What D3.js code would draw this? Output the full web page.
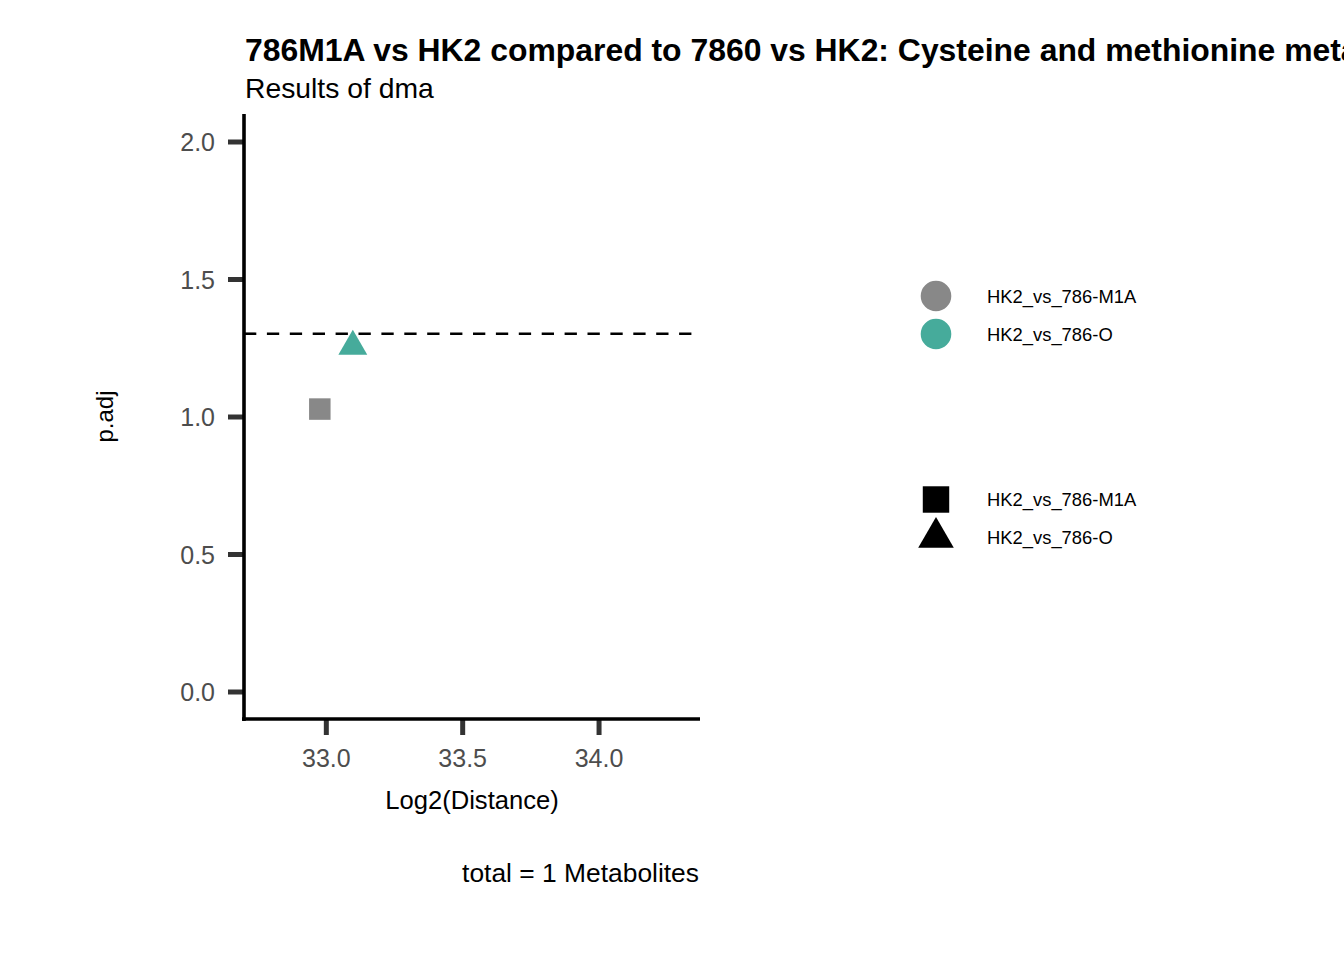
<!DOCTYPE html>
<html>
<head>
<meta charset="utf-8">
<script src="https://cdn.jsdelivr.net/npm/d3@7"></script>
<style>
  body { margin: 0; background: #ffffff; }
  svg { display: block; font-family: "Liberation Sans", Arial, Helvetica, sans-serif; }
</style>
</head>
<body>
<div id="chart"></div>
<script>
// Data
const comparisons = ["HK2_vs_786-M1A", "HK2_vs_786-O"];
const distance = [32.978, 33.099];   // Log2(Distance)
const padj = [1.027, 1.255];         // p.adj
const threshold = 1.301;             // -log10(0.05)
const xTicks = [33.0, 33.5, 34.0];
const yTicks = [0.0, 0.5, 1.0, 1.5, 2.0];
const colours = ["#888888", "#46AB9B"];
const shapes = ["square", "triangle"];

const titleText = "786M1A vs HK2 compared to 7860 vs HK2: Cysteine and methionine metabolism";
const subtitleText = "Results of dma";
const captionText = "total = 1 Metabolites";

const width = 1344, height = 960;
const panel = { left: 244, right: 700, top: 114, bottom: 719 };

const svg = d3.select("#chart")
  .append("svg")
  .attr("width", width)
  .attr("height", height);

const x = d3.scaleLinear().domain([32.700, 34.372]).range([panel.left, panel.right]);
const y = d3.scaleLinear().domain([-0.1, 2.1]).range([panel.bottom, panel.top]);

// marker paths, sized like the reference
const markerPath = (shape, k = 1) => {
  if (shape === "square") {
    const h = 10.75 * k;
    return `M${-h},${-h}H${h}V${h}H${-h}Z`;
  }
  if (shape === "triangle") {
    const r = 16.7 * k, xc = r * Math.sqrt(3) / 2;
    return `M0,${-r}L${xc},${r / 2}L${-xc},${r / 2}Z`;
  }
  return d3.symbol(d3.symbolCircle, Math.PI * (15.3 * k) ** 2)();
};

// titles (the reference title runs past the right edge)
svg.append("text")
  .attr("x", 245).attr("y", 61)
  .style("font-size", "31.9px").style("font-weight", "bold")
  .text(titleText);

svg.append("text")
  .attr("x", 245).attr("y", 98)
  .style("font-size", "28.3px")
  .text(subtitleText);

// threshold line
svg.append("line")
  .attr("x1", panel.left).attr("x2", panel.right)
  .attr("y1", y(threshold)).attr("y2", y(threshold))
  .attr("stroke", "#000").attr("stroke-width", 2.6)
  .attr("stroke-dasharray", "12.3,10.6");

// points
const data = comparisons.map((c, i) => ({ c, dx: distance[i], p: padj[i], col: colours[i], shape: shapes[i] }));

svg.append("g")
  .selectAll("path")
  .data(data)
  .join("path")
  .attr("transform", d => `translate(${x(d.dx)},${y(d.p)})`)
  .attr("d", d => markerPath(d.shape))
  .attr("fill", d => d.col);

// axes
const xAxis = svg.append("g")
  .attr("transform", `translate(0,${panel.bottom})`)
  .call(d3.axisBottom(x).tickValues(xTicks).tickFormat(d3.format(".1f")).tickSize(16).tickPadding(14));

const yAxis = svg.append("g")
  .attr("transform", `translate(${panel.left},0)`)
  .call(d3.axisLeft(y).tickValues(yTicks).tickFormat(d3.format(".1f")).tickSize(16).tickPadding(13));

[xAxis, yAxis].forEach(ax => {
  ax.select(".domain").remove();
  ax.selectAll(".tick line").attr("stroke", "#333333").attr("stroke-width", 5);
  ax.selectAll(".tick text")
    .attr("fill", "#4D4D4D")
    .style("font-size", "25px")
    .style("font-family", "'Liberation Sans', Arial, Helvetica, sans-serif");
});
xAxis.selectAll(".tick text").attr("dy", "0.72em");
yAxis.selectAll(".tick text").attr("dy", "0.36em");

// axis lines
svg.append("line")
  .attr("x1", panel.left).attr("x2", panel.left)
  .attr("y1", panel.top).attr("y2", panel.bottom + 2)
  .attr("stroke", "#000").attr("stroke-width", 3.6);
svg.append("line")
  .attr("x1", panel.left - 2).attr("x2", panel.right)
  .attr("y1", panel.bottom).attr("y2", panel.bottom)
  .attr("stroke", "#000").attr("stroke-width", 3.6);

// axis titles
svg.append("text")
  .attr("x", (panel.left + panel.right) / 2).attr("y", 809)
  .attr("text-anchor", "middle")
  .style("font-size", "25.6px")
  .text("Log2(Distance)");

svg.append("text")
  .attr("transform", `translate(113,${(panel.top + panel.bottom) / 2}) rotate(-90)`)
  .attr("text-anchor", "middle")
  .style("font-size", "24px")
  .text("p.adj");

// caption
svg.append("text")
  .attr("x", panel.right - 1).attr("y", 882)
  .attr("text-anchor", "end")
  .style("font-size", "26.4px")
  .text(captionText);

// legends
const keyX = 936, labelX = 987, rowGap = 38;

const colourLegend = svg.append("g").attr("transform", "translate(0,296)");
colourLegend.selectAll("path")
  .data(data)
  .join("path")
  .attr("transform", (d, i) => `translate(${keyX},${i * rowGap})`)
  .attr("d", markerPath("circle"))
  .attr("fill", d => d.col);
colourLegend.selectAll("text")
  .data(data)
  .join("text")
  .attr("x", labelX)
  .attr("y", (d, i) => i * rowGap + 6.5)
  .style("font-size", "18.4px")
  .text(d => d.c);

const shapeLegend = svg.append("g").attr("transform", "translate(0,499.5)");
shapeLegend.selectAll("path")
  .data(data)
  .join("path")
  .attr("transform", (d, i) => `translate(${keyX},${i * rowGap})`)
  .attr("d", d => markerPath(d.shape, 1.23))
  .attr("fill", "#000");
shapeLegend.selectAll("text")
  .data(data)
  .join("text")
  .attr("x", labelX)
  .attr("y", (d, i) => i * rowGap + 6.5)
  .style("font-size", "18.4px")
  .text(d => d.c);
</script>
</body>
</html>
